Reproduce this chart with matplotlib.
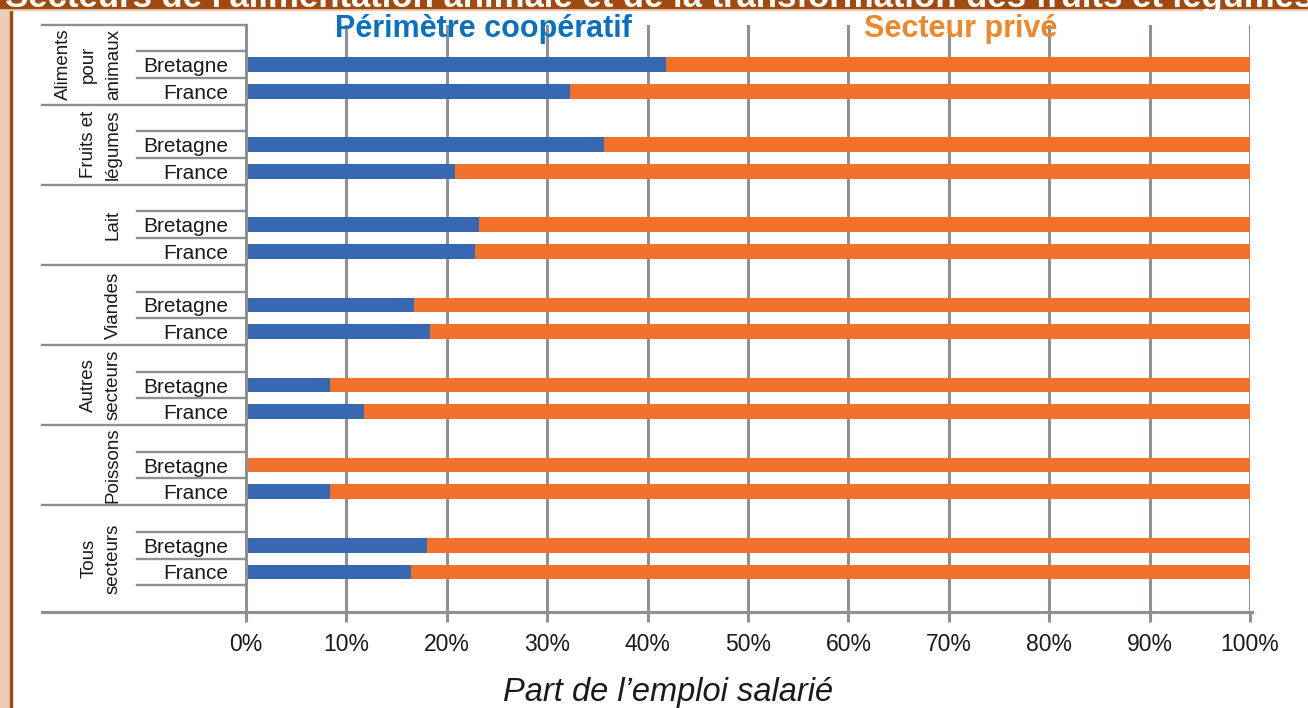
import matplotlib
matplotlib.use("Agg")
import matplotlib.pyplot as plt
from matplotlib.patches import Rectangle
import numpy as np

plt.rcParams['font.family'] = ['Liberation Sans', 'DejaVu Sans']

# data (share of salaried employment, %)
groups = ["Aliments\npour\nanimaux", "Fruits et\nlégumes", "Lait", "Viandes",
          "Autres\nsecteurs", "Poissons", "Tous\nsecteurs"]
regions = ["Bretagne", "France"]
coop_bretagne = [41.8, 35.7, 23.2, 16.7, 8.4, 0.0, 18.0]
coop_france = [32.3, 20.8, 22.8, 18.3, 11.8, 8.4, 16.4]
prive_bretagne = [100 - v for v in coop_bretagne]
prive_france = [100 - v for v in coop_france]

title = "Secteurs de l'alimentation animale et de la transformation des fruits et légumes"
label_coop = "Périmètre coopératif"
label_prive = "Secteur privé"
xlabel = "Part de l\u2019emploi salarié"

BLUE = "#3868B2"
ORANGE = "#F2712B"
GRID = "#8E9191"
BROWN = "#A14A0F"
BEIGE = "#EACDB8"

W, H = 1308, 708
X0, X100 = 246, 1250
YTOP, YBOT = 24.5, 612
NSLOT = 22


def fx(px):
    return px / W


def fy(py):
    return 1 - py / H


def dx(px):
    # pixel x -> data x (%)
    return (px - X0) / (X100 - X0) * 100


fig = plt.figure(figsize=(W / 100, H / 100), dpi=100)
fig.patch.set_facecolor("white")

# frame decoration
fig.patches.append(Rectangle((0, 0), fx(9.5), 1, transform=fig.transFigure,
                             color=BEIGE, zorder=0))
fig.patches.append(Rectangle((fx(9.5), 0), fx(2.5), 1, transform=fig.transFigure,
                             color=BROWN, zorder=0))
fig.patches.append(Rectangle((0, fy(9.5)), 1, fy(7.5) - fy(9.5), transform=fig.transFigure,
                             color=BEIGE, zorder=0))
fig.patches.append(Rectangle((0, fy(7.5)), 1, 1 - fy(7.5), transform=fig.transFigure,
                             color=BROWN, zorder=0))
fig.text(fx(5), fy(7.5), title, color="white", fontsize=25, fontweight="bold",
         ha="left", va="baseline")

ax = fig.add_axes([fx(X0), fy(YBOT), fx(X100) - fx(X0), fy(YTOP) - fy(YBOT)])
ax.set_xlim(0, 100)
ax.set_ylim(NSLOT, 0)

ng = len(groups)
y_bre = np.arange(ng) * 3 + 1.5
y_fra = np.arange(ng) * 3 + 2.5
bh = 0.55
ax.barh(y_bre, coop_bretagne, height=bh, color=BLUE, zorder=3)
ax.barh(y_bre, prive_bretagne, left=coop_bretagne, height=bh, color=ORANGE, zorder=3)
ax.barh(y_fra, coop_france, height=bh, color=BLUE, zorder=3)
ax.barh(y_fra, prive_france, left=coop_france, height=bh, color=ORANGE, zorder=3)

# x axis
ax.set_xticks(np.arange(0, 101, 10))
ax.set_xticklabels(["%d%%" % v for v in range(0, 101, 10)])
ax.grid(axis="x", color=GRID, lw=2.2, zorder=1)
ax.tick_params(axis="x", length=7, width=2.2, color=GRID, pad=8,
               labelsize=16.5, labelcolor="#1a1a1a")
for s in ["top", "right", "bottom"]:
    ax.spines[s].set_visible(False)
ax.spines["left"].set_color(GRID)
ax.spines["left"].set_linewidth(2.2)
ax.spines["left"].set_zorder(4)

# y axis: region labels
yt = np.sort(np.concatenate([y_bre, y_fra]))
ax.set_yticks(yt)
ax.set_yticklabels(regions * ng)
ax.tick_params(axis="y", length=0, pad=13, labelsize=15, labelcolor="#1a1a1a")

# category separators
lw_cat = 1.7
x_grp = dx(42)
x_sub = dx(137)
grp_bounds = [0, 3, 6, 9, 12, 15, 18, 22]
for b in grp_bounds[:-1]:
    ax.plot([x_grp, 0], [b, b], color=GRID, lw=lw_cat, clip_on=False, zorder=4)
ax.plot([x_grp, 100.2], [NSLOT, NSLOT], color=GRID, lw=2.2, clip_on=False, zorder=4)
ax.plot([0, 0], [NSLOT, NSLOT + 0.3], color=GRID, lw=2.2, clip_on=False, zorder=4)
for g in range(ng):
    subs = [3 * g + 1, 3 * g + 2]
    if g == ng - 1:
        subs.append(3 * g + 3)
    for s in subs:
        ax.plot([x_sub, 0], [s, s], color=GRID, lw=lw_cat, clip_on=False, zorder=4)

# group labels
for g, name in enumerate(groups):
    yc = (grp_bounds[g] + grp_bounds[g + 1]) / 2
    ax.text(dx(122), yc, name, rotation=90, ha="right", va="center",
            multialignment="center", linespacing=1.6, fontsize=13.5,
            color="#1a1a1a", clip_on=False)

# series titles
fig.text(fx(483), fy(29), label_coop, color="#0A70C0", fontsize=22,
         fontweight="bold", ha="center", va="center")
fig.text(fx(961), fy(29), label_prive, color="#F0862A", fontsize=22,
         fontweight="bold", ha="center", va="center")

fig.text(fx(668), fy(692), xlabel, fontsize=23.5, style="italic",
         color="#1a1a1a", ha="center", va="center")

fig.savefig("out.png", dpi=100)
